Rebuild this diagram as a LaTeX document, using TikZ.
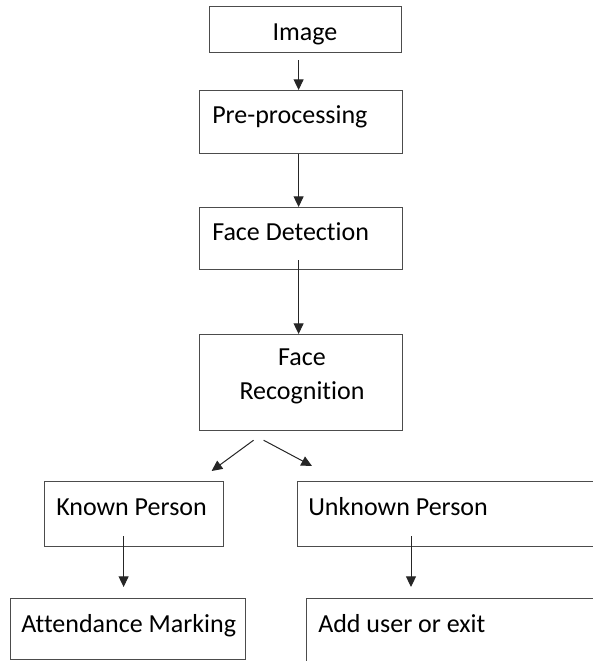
\documentclass[tikz,border=0pt]{standalone}
\usepackage{fontspec}
\setmainfont{Carlito}[Ligatures={NoCommon}]
\usetikzlibrary{arrows.meta,calc}

\begin{document}
\begin{tikzpicture}[x=0.75pt,y=-0.75pt]
  \tikzstyle{box}=[draw=black!70,line width=0.9pt,rectangle,inner sep=0pt,anchor=north west];
  \tikzstyle{txt}=[font=\fontsize{19.5}{25.5}\selectfont,inner sep=0pt,anchor=base west];
  \tikzstyle{arr}=[-{Triangle[length=8pt,width=7.5pt]},line width=0.75pt,black!85];

  \useasboundingbox (0,0) rectangle (593,661);
  \clip (0,0) rectangle (593,661);

  % boxes, top-left corner in pixels
  \node[box,minimum width=144pt,minimum height=34.5pt] (img) at (209,6) {};
  \node[box,minimum width=152.25pt,minimum height=47.25pt] (pre) at (199,90) {};
  \node[box,minimum width=152.25pt,minimum height=46.5pt] (det) at (199,207) {};
  \node[box,minimum width=152.25pt,minimum height=72pt] (rec) at (199,334) {};
  \node[box,minimum width=134.25pt,minimum height=48.75pt] (known) at (44,481) {};
  \node[box,minimum width=242.25pt,minimum height=48.75pt] (unknown) at (297,481) {};
  \node[box,minimum width=176.25pt,minimum height=45.75pt] (att) at (10,598) {};
  \node[box,minimum width=235.5pt,minimum height=54pt] (add) at (306,598) {};

  % texts
  \node[txt,anchor=base] (img-t) at (305,40) {Image};
  \node[txt] (pre-t) at (212,123) {Pre-processing};
  \node[txt] (det-t) at (212,240) {Face Detection};
  \node[txt,anchor=base,align=center] (rec-t) at (302,399.5) {Face\\Recognition};
  \node[txt] (known-t) at (56,515) {Known Person};
  \node[txt] (unknown-t) at (308,515) {Unknown Person};
  \node[txt] (att-t) at (21,632) {Attendance Marking};
  \node[txt] (add-t) at (318,632) {Add user or exit};

  % arrows
  \draw[arr] ($(img.south)+(-7,7)$) -- ($(pre.north)+(-2.5,0)$);
  \draw[arr] ($(pre.south)+(-2.5,0)$) -- ($(det.north)+(-2.5,0)$);
  \draw[arr] ($(det.south)+(-2.5,-10)$) -- ($(rec.north)+(-2.5,0)$);
  \draw[arr] ($(rec.south)+(-47.5,9)$) -- ($(known.north)+(77.5,-10)$);
  \draw[arr] ($(rec.south)+(-37.5,9)$) -- ($(unknown.north west)+(15,-15)$);
  \draw[arr] ($(known.south)+(-10.5,-11)$) -- ($(att.north)+(-4.5,-11)$);
  \draw[arr] ($(unknown.south west)+(114,-11)$) -- ($(add.north west)+(105,-11)$);

\end{tikzpicture}
\end{document}
